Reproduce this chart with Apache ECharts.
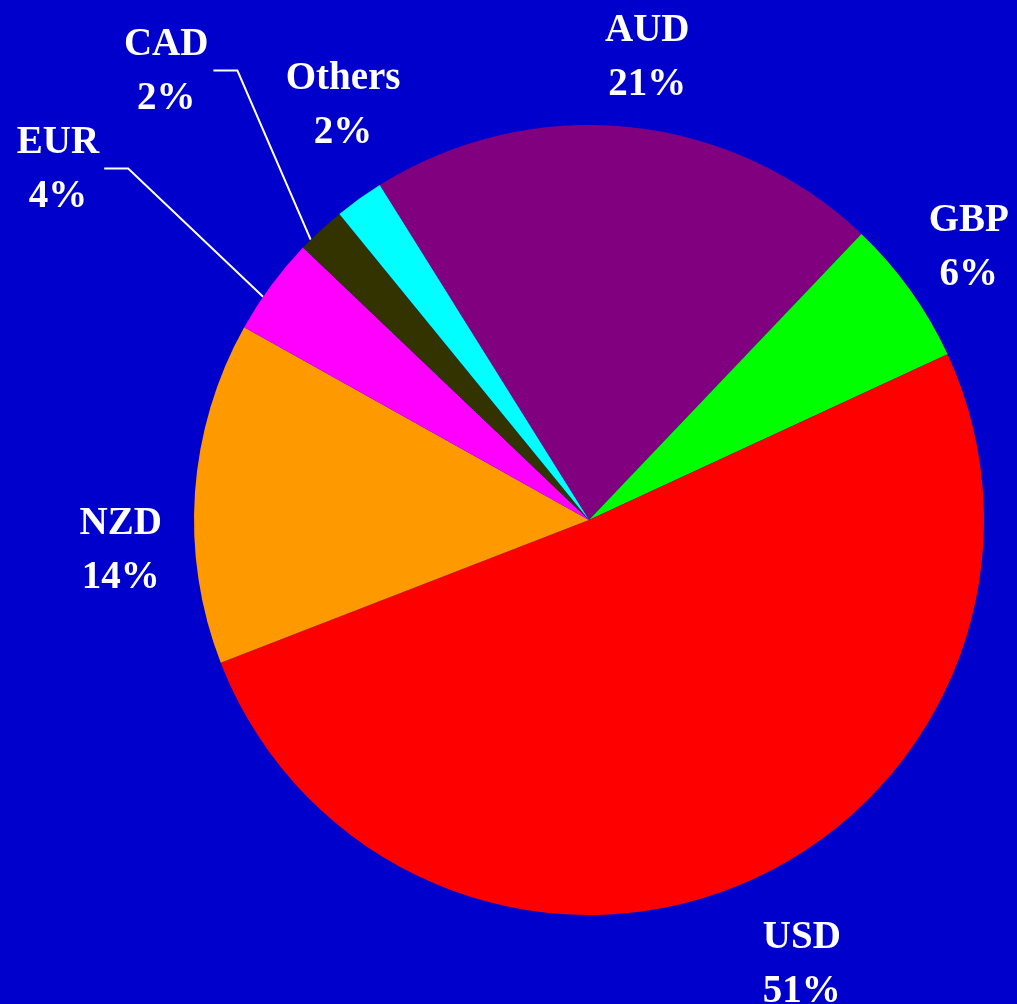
<!DOCTYPE html>
<html>
<head>
<meta charset="utf-8">
<script src="https://cdn.jsdelivr.net/npm/echarts@6/dist/echarts.min.js"></script>
<style>
	html,body{margin:0;padding:0;background:#0000cc;}
	#chart{width:1017px;height:1004px;}
</style>
</head>
<body>
<div id="chart"></div>
<script>
	// 币种占比
	var currencies = ['AUD', 'GBP', 'USD', 'NZD', 'EUR', 'CAD', 'Others'];
	var shares = [21, 6, 51, 14, 4, 2, 2];
	var sliceColors = ['#800080', '#00ff00', '#ff0000', '#ff9900', '#ff00ff', '#333300', '#00ffff'];

	// 饼图位置
	var cx = 589, cy = 520, radius = 395;
	var startDeg = 328; // 顺时针, 从正上方算
	// 标签: 离圆心距离, 相对扇区中线的偏转角
	var labelDist = [471, 470, 489, 469, 639, 620, 486];
	var labelTurn = [1.3, -0.5, -2.8, -7.2, -2.6, -0.2, 5.2];
	var labelDrop = 5;
	var withLine = ['EUR', 'CAD'];

	var total = shares.reduce(function(a, b){ return a + b; }, 0);
	function midDeg(i){
		var before = 0;
		for (var j = 0; j < i; j++) before += shares[j];
		return startDeg + (before + shares[i] / 2) / total * 360;
	}
	function polar(deg, d){
		var r = deg * Math.PI / 180;
		return [cx + d * Math.sin(r), cy - d * Math.cos(r)];
	}

	var myChart = echarts.init(document.getElementById('chart'));
	var option = {
		backgroundColor: '#0000cc',
		animation: false,
		series: [{
			type: 'pie',
			center: [cx, cy],
			radius: radius,
			startAngle: 90 - startDeg + 360,
			clockwise: true,
			avoidLabelOverlap: false,
			itemStyle: { borderWidth: 0 },
			label: {
				show: true,
				position: 'outside',
				color: '#ffffff',
				fontFamily: 'Liberation Serif',
				fontWeight: 'bold',
				fontSize: 39,
				lineHeight: 54,
				formatter: function(p){
					return p.name + '\n' + Math.round(p.percent) + '%';
				}
			},
			labelLine: { show: false, lineStyle: { color: '#ffffff', width: 2 } },
			emphasis: { disabled: true },
			labelLayout: function(params){
				var i = params.dataIndex;
				var mid = midDeg(i);
				var pos = polar(mid + labelTurn[i], labelDist[i]);
				var y = pos[1] + labelDrop;
				var res = { x: pos[0], y: y, align: 'center', verticalAlign: 'middle' };
				if (withLine.indexOf(currencies[i]) >= 0) {
					var edge = polar(mid - 2, radius);
					var endX = pos[0] + params.labelRect.width / 2 + 5;
					res.labelLinePoints = [edge, [endX + 24, y - 1], [endX, y - 1]];
				}
				return res;
			},
			data: currencies.map(function(name, i){
				var item = { name: name, value: shares[i], itemStyle: { color: sliceColors[i] } };
				if (withLine.indexOf(name) >= 0) {
					item.labelLine = { show: true, lineStyle: { color: '#ffffff', width: 2 } };
				}
				return item;
			})
		}]
	};
	myChart.setOption(option);
</script>
</body>
</html>
